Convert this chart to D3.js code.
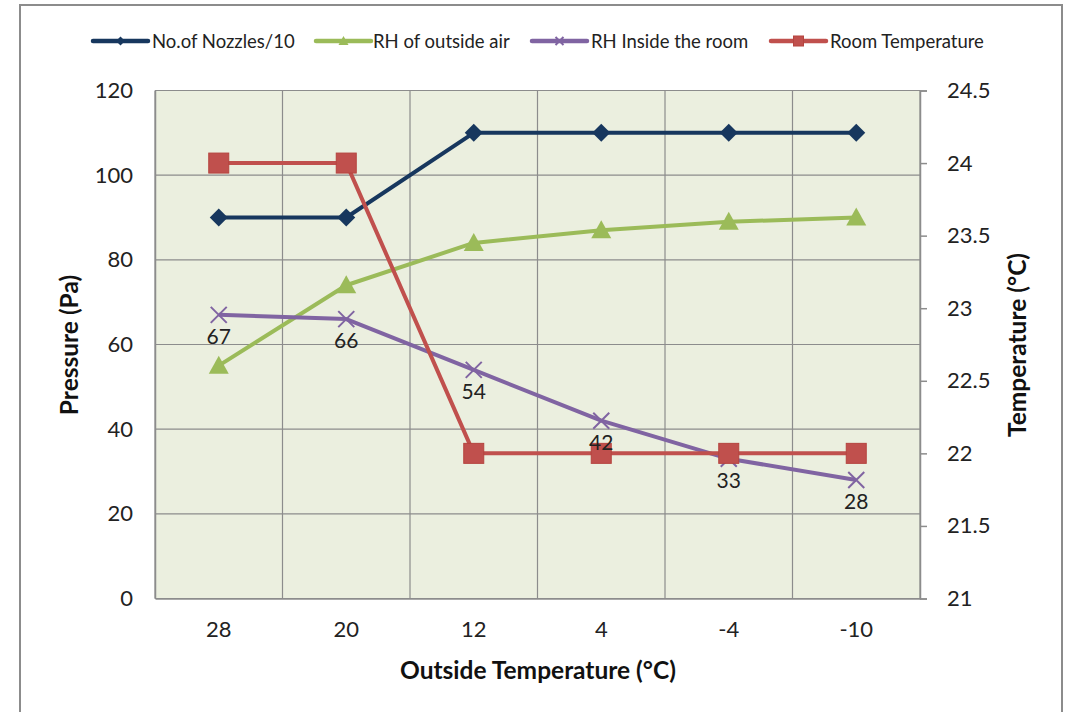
<!DOCTYPE html>
<html>
<head>
<meta charset="utf-8">
<script src="https://cdn.jsdelivr.net/npm/d3@7"></script>
<style>
  html, body { margin: 0; padding: 0; background: #fff; }
  svg { display: block; font-family: Lato, "Open Sans", sans-serif; }
</style>
</head>
<body>
<svg id="chart" width="1065" height="712"></svg>
<script>
// Outside temperature categories (°C)
const categories = ["28", "20", "12", "4", "-4", "-10"];
// Left-axis series
const nozzles = [90, 90, 110, 110, 110, 110];
const rhOutside = [55, 74, 84, 87, 89, 90];
const rhInside = [67, 66, 54, 42, 33, 28];
// Right-axis series (°C)
const roomTemp = [24, 24, 22, 22, 22, 22];
// Axis ticks
const leftTicks = [0, 20, 40, 60, 80, 100, 120];
const rightTicks = [21, 21.5, 22, 22.5, 23, 23.5, 24, 24.5];

const svg = d3.select("#chart");
const plot = { left: 155, right: 920, top: 90.5, bottom: 598.5 };

// Outer chart frame
svg.append("rect")
  .attr("x", 20).attr("y", 5).attr("width", 1042).attr("height", 720)
  .attr("fill", "#fff").attr("stroke", "#8c8c8c").attr("stroke-width", 2);

const x = d3.scaleBand().domain(categories).range([plot.left, plot.right]).padding(0);
const yL = d3.scaleLinear().domain([0, 120]).range([plot.bottom, plot.top]);
const yR = d3.scaleLinear().domain([21, 24.5]).range([plot.bottom, plot.top]);
const cx = c => x(c) + x.bandwidth() / 2;

// Plot background
svg.append("rect")
  .attr("x", plot.left).attr("y", plot.top)
  .attr("width", plot.right - plot.left).attr("height", plot.bottom - plot.top)
  .attr("fill", "#EBEFDF");

// Horizontal gridlines
svg.append("g").selectAll("line").data(leftTicks).join("line")
  .attr("x1", plot.left).attr("x2", plot.right)
  .attr("y1", d => yL(d)).attr("y2", d => yL(d))
  .attr("stroke", "#8c8c8c").attr("stroke-width", 1.2);

// Vertical category gridlines
const bounds = categories.map(c => x(c)).concat([plot.right]);
svg.append("g").selectAll("line").data(bounds).join("line")
  .attr("x1", d => d).attr("x2", d => d)
  .attr("y1", plot.top).attr("y2", plot.bottom)
  .attr("stroke", "#8c8c8c").attr("stroke-width", 1.2);

// Left axis
const gL = svg.append("g").attr("transform", `translate(${plot.left},0)`)
  .call(d3.axisLeft(yL).tickValues(leftTicks).tickSize(0).tickPadding(22));
gL.select(".domain").attr("stroke", "#8c8c8c").attr("stroke-width", 1.5);
gL.selectAll("text").attr("font-size", 22).attr("fill", "#222").attr("font-family", "Lato, sans-serif");

// Right axis
const gR = svg.append("g").attr("transform", `translate(${plot.right},0)`)
  .call(d3.axisRight(yR).tickValues(rightTicks).tickSize(7).tickPadding(20).tickFormat(d3.format("")));
gR.select(".domain").attr("stroke", "#8c8c8c").attr("stroke-width", 1.5);
gR.selectAll(".tick line").attr("stroke", "#8c8c8c").attr("stroke-width", 1.5);
gR.selectAll("text").attr("font-size", 22).attr("fill", "#222").attr("font-family", "Lato, sans-serif");

// Bottom axis
const gB = svg.append("g").attr("transform", `translate(0,${plot.bottom})`)
  .call(d3.axisBottom(x).tickSize(0).tickPadding(23));
gB.select(".domain").attr("stroke", "#8c8c8c").attr("stroke-width", 1.5);
gB.selectAll("text").attr("font-size", 22).attr("fill", "#222").attr("font-family", "Lato, sans-serif");

// Axis titles
svg.append("text").attr("transform", `translate(78,345) rotate(-90)`)
  .attr("text-anchor", "middle").attr("font-size", 24.5).attr("font-weight", "bold")
  .attr("fill", "#111").text("Pressure (Pa)");
svg.append("text").attr("transform", `translate(1026,345) rotate(-90)`)
  .attr("text-anchor", "middle").attr("font-size", 24.5).attr("font-weight", "bold")
  .attr("fill", "#111").text("Temperature (°C)");
svg.append("text").attr("x", 538).attr("y", 679)
  .attr("text-anchor", "middle").attr("font-size", 24.5).attr("font-weight", "bold")
  .attr("fill", "#111").text("Outside Temperature (°C)");

const series = [
  { name: "No.of Nozzles/10", values: nozzles, y: yL, color: "#17375E", marker: "diamond" },
  { name: "RH of outside air", values: rhOutside, y: yL, color: "#9BBB59", marker: "triangle" },
  { name: "RH Inside the room", values: rhInside, y: yL, color: "#8064A2", marker: "x" },
  { name: "Room Temperature", values: roomTemp, y: yR, color: "#C0504D", marker: "square" }
];

function drawMarker(g, type, color, scale) {
  const s = scale || 1;
  if (type === "diamond") {
    g.append("path").attr("d", `M0,${-9*s}L${9*s},0L0,${9*s}L${-9*s},0Z`).attr("fill", color);
  } else if (type === "square") {
    g.append("rect").attr("x", -10*s).attr("y", -10*s).attr("width", 20*s).attr("height", 20*s)
      .attr("fill", color).attr("stroke", "#b5443f").attr("stroke-width", 1);
  } else if (type === "triangle") {
    g.append("path").attr("d", `M0,${-10*s}L${10*s},${8*s}L${-10*s},${8*s}Z`).attr("fill", color);
  } else if (type === "x") {
    g.append("path").attr("d", `M${-8*s},${-8*s}L${8*s},${8*s}M${-8*s},${8*s}L${8*s},${-8*s}`)
      .attr("stroke", color).attr("stroke-width", 2).attr("fill", "none");
  }
}

// Lines and markers
series.forEach(s => {
  const line = d3.line().x((d, i) => cx(categories[i])).y(d => s.y(d));
  svg.append("path").datum(s.values).attr("d", line)
    .attr("fill", "none").attr("stroke", s.color).attr("stroke-width", 4)
    .attr("stroke-linejoin", "round");
  s.values.forEach((v, i) => {
    const g = svg.append("g").attr("transform", `translate(${cx(categories[i])},${s.y(v)})`);
    drawMarker(g, s.marker, s.color, 1);
  });
});

// Value labels for RH inside the room
svg.append("g").selectAll("text").data(rhInside).join("text")
  .attr("x", (d, i) => cx(categories[i]))
  .attr("y", d => yL(d) + 29)
  .attr("text-anchor", "middle").attr("font-size", 21).attr("fill", "#222")
  .text(d => d);

// Legend
const legendItems = [
  { x0: 93, tx: 152 },
  { x0: 316, tx: 373 },
  { x0: 532, tx: 591 },
  { x0: 771, tx: 830 }
];
series.forEach((s, i) => {
  const li = legendItems[i];
  const ly = 41;
  svg.append("line").attr("x1", li.x0).attr("x2", li.x0 + 55).attr("y1", ly).attr("y2", ly)
    .attr("stroke", s.color).attr("stroke-width", 4.5).attr("stroke-linecap", "round");
  const g = svg.append("g").attr("transform", `translate(${li.x0 + 27.5},${ly})`);
  drawMarker(g, s.marker, s.color, 0.5);
  svg.append("text").attr("x", li.tx).attr("y", ly + 6.5).attr("font-size", 18.5)
    .attr("fill", "#222").text(s.name);
});
</script>
</body>
</html>
